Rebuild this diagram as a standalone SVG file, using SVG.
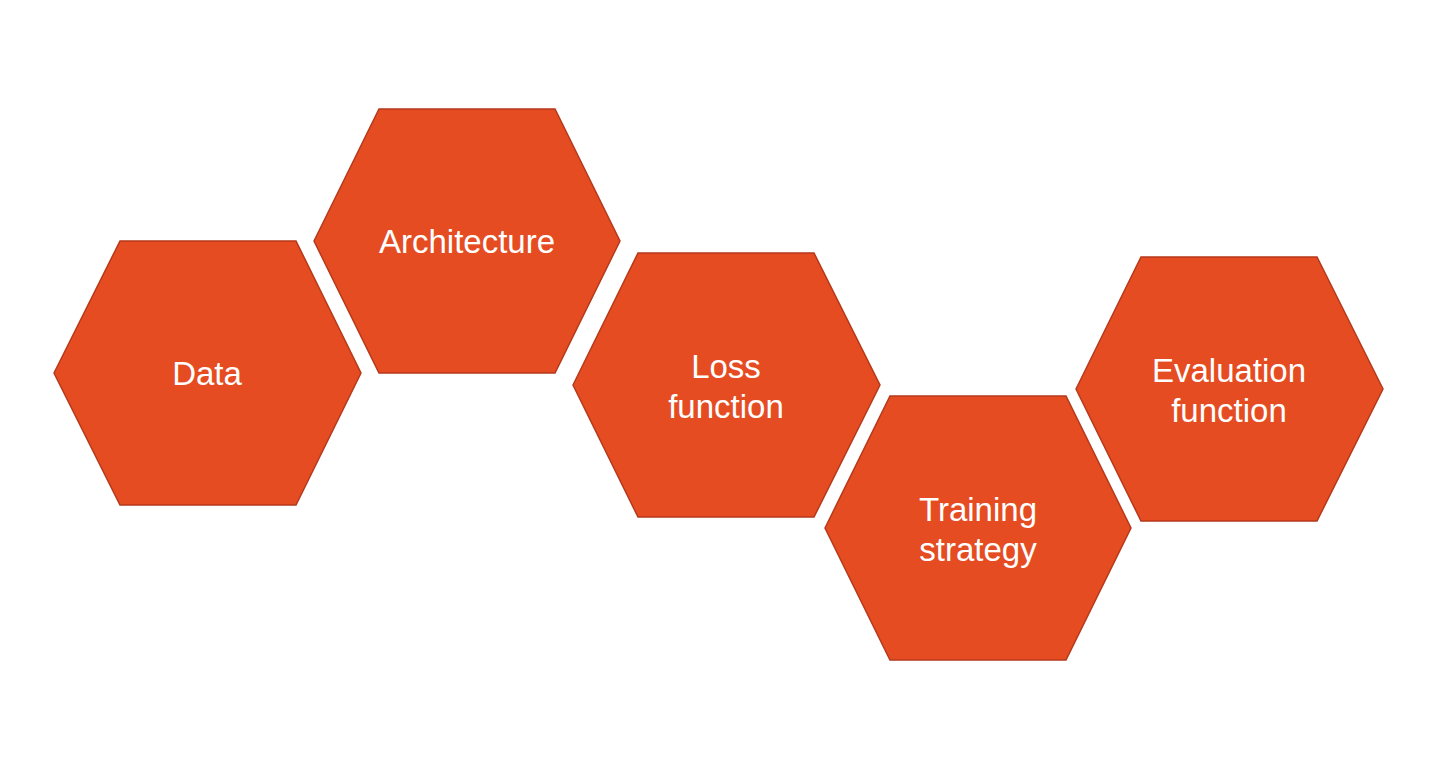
<svg xmlns="http://www.w3.org/2000/svg" width="1444" height="769" viewBox="0 0 1444 769">
<style>
.hex{fill:#E64C22;stroke:#B5391A;stroke-width:1.5}
.lbl{font-family:"Liberation Sans",Arial,sans-serif;font-size:33px;fill:#FFFFFF;text-anchor:middle}
</style>
<rect width="1444" height="769" fill="#FFFFFF"/>
<g id="connectors"></g>
<g id="data">
<polygon class="hex" points="54,373 120,241 296,241 361,373 296,505 120,505"/>
<text class="lbl" x="207" y="385">Data</text>
</g>
<g id="architecture">
<polygon class="hex" points="314,241 379,109 555,109 620,241 555,373 379,373"/>
<text class="lbl" x="467" y="253">Architecture</text>
</g>
<g id="loss">
<polygon class="hex" points="573,385 638,253 814,253 880,385 814,517 638,517"/>
<text class="lbl" x="726" y="378">Loss</text>
<text class="lbl" x="726" y="418">function</text>
</g>
<g id="training">
<polygon class="hex" points="825,528 890,396 1066,396 1131,528 1066,660 890,660"/>
<text class="lbl" x="978" y="521">Training</text>
<text class="lbl" x="978" y="561">strategy</text>
</g>
<g id="evaluation">
<polygon class="hex" points="1076,389 1141,257 1317,257 1383,389 1317,521 1141,521"/>
<text class="lbl" x="1229" y="382">Evaluation</text>
<text class="lbl" x="1229" y="422">function</text>
</g>
</svg>
